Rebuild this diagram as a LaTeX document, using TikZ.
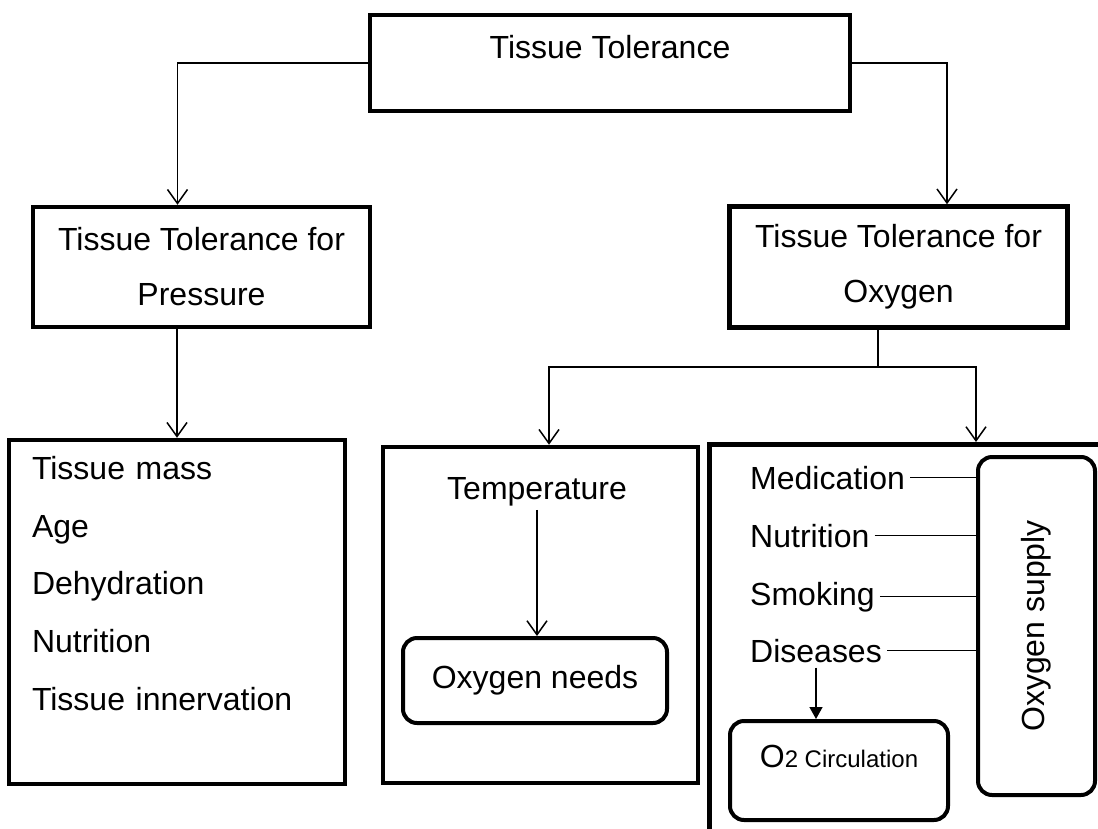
\documentclass[tikz,border=0pt]{standalone}
\usepackage{fontspec}
\usepackage{graphicx}
\setmainfont{Liberation Sans}
\usetikzlibrary{arrows.meta}

\begin{document}
\begin{tikzpicture}[
    x=1pt, y=-1pt,
    font=\fontsize{32}{55}\selectfont,
    box/.style={draw, line width=4.5pt, inner sep=0pt, align=center},
    softbox/.style={draw, line width=4pt, rounded corners=14pt, inner sep=0pt},
    item/.style={anchor=base west, inner sep=5pt},
    link/.style={draw, line width=1.5pt},
    conn/.style={link, -{Straight Barb[length=14pt, width=20pt]}},
    solidconn/.style={link, -{Triangle[length=12pt, width=13pt]}}
]
    \useasboundingbox (0,0) rectangle (1098,828);
    \clip (0,0) rectangle (1098,828);

    % top level
    \node[box, minimum width=480pt, minimum height=96pt,
          text height=23pt, text depth=33pt] (tt) at (610,63) {Tissue Tolerance};
    \node[box, minimum width=337pt, minimum height=120pt] (ttp) at (201.5,267)
        {Tissue Tolerance for\\Pressure};
    \node[box, minimum width=338pt, minimum height=121pt] (tto) at (898.5,267)
        {Tissue Tolerance for\\Oxygen};

    % pressure factors
    \node[box, align=left, text width=290pt, inner xsep=23pt, minimum height=344pt,
          font=\fontsize{32}{57.7}\selectfont] (plist) at (177,612)
        {Tissue mass\\Age\\Dehydration\\Nutrition\\Tissue innervation\\~};

    % oxygen needs
    \node[box, minimum width=315pt, minimum height=336pt] (tbox) at (540.5,615) {};
    \node[anchor=base, inner sep=4pt] (temp) at (537,499) {Temperature};
    \node[softbox, minimum width=264pt, minimum height=85pt] (need) at (535,680.5)
        {Oxygen needs};

    % oxygen supply
    \node[box, anchor=north west, minimum width=500pt, minimum height=500pt]
        (sbox) at (707,442) {};
    \node[softbox, minimum width=117pt, minimum height=338pt] (osup) at (1036.5,626)
        {\rotatebox{90}{Oxygen supply}};
    \node[item] (med) at (745,489) {Medication};
    \node[item] (nut) at (745,547) {Nutrition};
    \node[item] (smk) at (745,605) {Smoking};
    \node[item] (dis) at (745,662) {Diseases};
    \node[softbox, minimum width=218pt, minimum height=99pt,
          text height=23pt, text depth=30pt] (circ) at (839,770.5)
        {O{\fontsize{24}{28}\selectfont 2 Circulation}};

    % connectors
    \draw[conn] (tt.west) -| ([xshift=-24pt]ttp.north);
    \draw[conn] (tt.east) -| ([xshift=48.5pt]tto.north);
    \draw[conn] (ttp.south -| plist.north) -- (plist.north);
    \coordinate (fork) at (878,367);
    \draw[link] (tto.south -| fork) -- (fork);
    \draw[conn] (fork) -| ([xshift=8.5pt]tbox.north);
    \draw[conn] (fork) -| (osup.west |- sbox.north);
    \draw[conn] (temp) -- (temp |- need.north);
    \foreach \f in {med,nut,smk,dis}
        \draw[link] (\f.east) -- (\f.east -| osup.west);
    \draw[solidconn] (dis.south) -- (dis.south |- circ.north);
\end{tikzpicture}
\end{document}
